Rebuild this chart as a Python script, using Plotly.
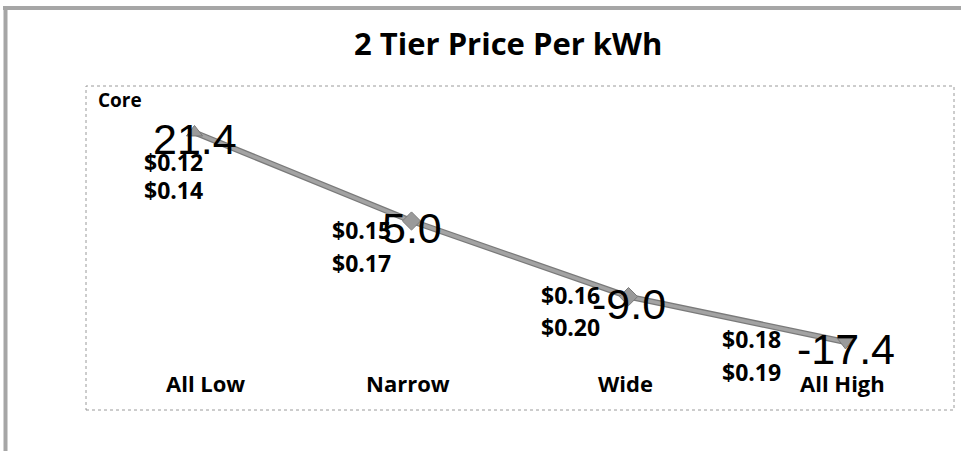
import plotly.graph_objects as go

categories = ["All Low", "Narrow", "Wide", "All High"]
values = [21.4, 5.0, -9.0, -17.4]
low_prices = ["$0.12", "$0.15", "$0.16", "$0.18"]
high_prices = ["$0.14", "$0.17", "$0.20", "$0.19"]
title_text = "2 Tier Price Per kWh"
series_name = "Core"

W, H = 961, 451
L, R, T, B = 86, 954, 86, 410  # plot area in pixels


def px(x):
    return (x - L) / (R - L)


def py(y):
    return (B - y) / (B - T)


fig = go.Figure()
fig.add_trace(go.Scatter(
    x=categories, y=values, mode="lines",
    line=dict(color="#7a7a7a", width=6), hoverinfo="skip", showlegend=False,
))
fig.add_trace(go.Scatter(
    x=categories, y=values, mode="lines+markers",
    line=dict(color="#a3a3a3", width=3.5),
    marker=dict(symbol=["triangle-up", "diamond", "diamond", "triangle-down"],
                size=14, color="#9a9a9a", line=dict(color="#7a7a7a", width=1)),
    showlegend=False,
))

ann = []
font_lbl = dict(family="Open Sans, Lato, sans-serif", size=23, color="#000")
font_cat = dict(family="Open Sans, Lato, sans-serif", size=22, color="#000")
for c, v in zip(categories, values):
    ann.append(dict(x=c, y=v, xref="x", yref="y", text=f"{v:.1f}", showarrow=False,
                    xanchor="center", yanchor="middle", yshift=-7,
                    font=dict(family="Liberation Sans, Arial, sans-serif", size=43, color="#000")))
price_right = [205, 393, 602, 783]
price_l1 = [162, 230, 295, 339]
price_l2 = [190, 263, 327, 372]
for lo, hi, xr, y1, y2 in zip(low_prices, high_prices, price_right, price_l1, price_l2):
    ann.append(dict(x=px(xr), y=py(y1), xref="paper", yref="paper", text=f"<b>{lo}</b>",
                    showarrow=False, xanchor="right", yanchor="middle", font=font_lbl))
    ann.append(dict(x=px(xr), y=py(y2), xref="paper", yref="paper", text=f"<b>{hi}</b>",
                    showarrow=False, xanchor="right", yanchor="middle", font=font_lbl))
cat_centers = [205, 408, 625, 842]
for c, xc in zip(categories, cat_centers):
    ann.append(dict(x=px(xc), y=py(383), xref="paper", yref="paper", text=f"<b>{c}</b>",
                    showarrow=False, xanchor="center", yanchor="middle", font=font_cat))
ann.append(dict(x=px(96), y=py(100), xref="paper", yref="paper", text=f"<b>{series_name}</b>",
                showarrow=False, xanchor="left", yanchor="middle",
                font=dict(family="Open Sans, Lato, sans-serif", size=19, color="#000")))
ann.append(dict(x=px(508), y=py(43), xref="paper", yref="paper", text=f"<b>{title_text}</b>",
                showarrow=False, xanchor="center", yanchor="middle",
                font=dict(family="Open Sans, Lato, sans-serif", size=31, color="#000")))

shapes = [
    dict(type="rect", xref="paper", yref="paper", x0=0, y0=0, x1=1, y1=1,
         line=dict(color="#9a9a9a", width=1, dash="dot")),
    dict(type="line", xref="paper", yref="paper", x0=px(3), x1=px(W + 5), y0=py(8), y1=py(8),
         line=dict(color="#a6a6a6", width=4)),
    dict(type="line", xref="paper", yref="paper", x0=px(5.5), x1=px(5.5), y0=py(6), y1=py(H + 5),
         line=dict(color="#a6a6a6", width=4)),
]

fig.update_layout(
    width=W, height=H,
    margin=dict(l=L, r=W - R, t=T, b=H - B, pad=0),
    paper_bgcolor="white", plot_bgcolor="white",
    xaxis=dict(showticklabels=False, showgrid=False, zeroline=False, showline=False,
               ticks="", range=[-0.5, 3.5]),
    yaxis=dict(showticklabels=False, showgrid=False, zeroline=False, showline=False,
               ticks="", range=[-30, 30]),
    annotations=ann, shapes=shapes,
)

fig.write_html("out.html", config={"displayModeBar": False},
               post_script="document.body.style.margin='0';document.body.style.overflow='hidden';")
